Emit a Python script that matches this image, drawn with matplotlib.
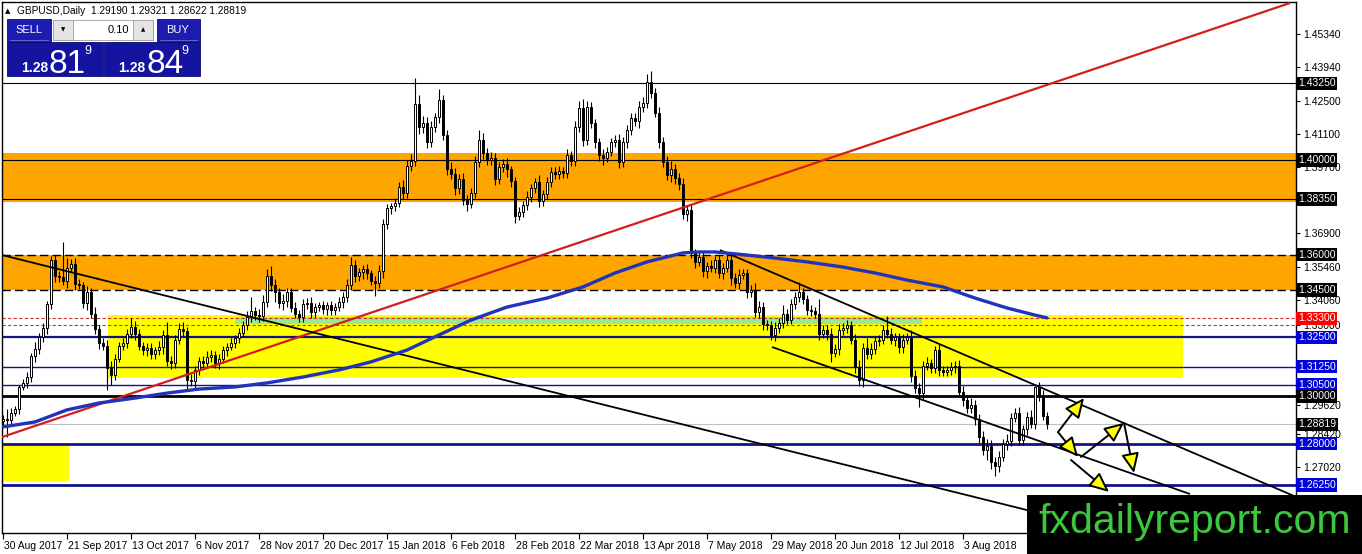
import numpy as np
import matplotlib
matplotlib.use('Agg')
import matplotlib.pyplot as plt
from matplotlib.patches import Rectangle
import matplotlib.transforms as mtrans
from matplotlib import font_manager as fm

# ---------------- data ----------------
closes = [
 1.2905, 1.2900, 1.2930, 1.2945, 1.3040, 1.3055, 1.3080, 1.3170, 1.3200, 1.3250, 1.3290, 1.3390, 1.3575, 1.3510, 1.3505, 1.3490,
 1.3545, 1.3560, 1.3475, 1.3470, 1.3395, 1.3440, 1.3350, 1.3285, 1.3225, 1.3215, 1.3120, 1.3090, 1.3160, 1.3215, 1.3225, 1.3265,
 1.3295, 1.3265, 1.3215, 1.3195, 1.3205, 1.3180, 1.3195, 1.3210, 1.3260, 1.3150, 1.3140, 1.3240, 1.3285, 1.3275, 1.3070, 1.3065,
 1.3110, 1.3150, 1.3140, 1.3165, 1.3175, 1.3140, 1.3160, 1.3195, 1.3210, 1.3225, 1.3245, 1.3270, 1.3300, 1.3335, 1.3360, 1.3345,
 1.3340, 1.3400, 1.3510, 1.3470, 1.3440, 1.3395, 1.3405, 1.3440, 1.3375, 1.3350, 1.3335, 1.3390, 1.3395, 1.3355, 1.3380, 1.3385,
 1.3370, 1.3385, 1.3365, 1.3380, 1.3400, 1.3420, 1.3470, 1.3555, 1.3510, 1.3525, 1.3540, 1.3520, 1.3490, 1.3480, 1.3530, 1.3730,
 1.3795, 1.3805, 1.3820, 1.3885, 1.3860, 1.3975, 1.3995, 1.4235, 1.4140, 1.4155, 1.4075, 1.4140, 1.4180, 1.4255, 1.4105, 1.3960,
 1.3940, 1.3880, 1.3920, 1.3830, 1.3815, 1.3860, 1.3990, 1.4085, 1.4030, 1.4000, 1.4010, 1.3920, 1.3970, 1.3985, 1.3960, 1.3910,
 1.3765, 1.3780, 1.3810, 1.3843, 1.3880, 1.3905, 1.3825, 1.3855, 1.3905, 1.3950, 1.3940, 1.3955, 1.3945, 1.4020, 1.3995, 1.4140,
 1.4220, 1.4085, 1.4225, 1.4155, 1.4075, 1.4020, 1.4010, 1.4035, 1.4075, 1.4085, 1.3990, 1.4076, 1.4125, 1.4178, 1.4165, 1.4224,
 1.4240, 1.4330, 1.4283, 1.4200, 1.4076, 1.3990, 1.3937, 1.3960, 1.3925, 1.3900, 1.3770, 1.3790, 1.3610, 1.3570, 1.3590, 1.3530,
 1.3550, 1.3545, 1.3575, 1.3520, 1.3545, 1.3575, 1.3500, 1.3480, 1.3515, 1.3520, 1.3440, 1.3450, 1.3355, 1.3380, 1.3305, 1.3300,
 1.3260, 1.3290, 1.3310, 1.3350, 1.3325, 1.3390, 1.3420, 1.3440, 1.3410, 1.3365, 1.3360, 1.3350, 1.3265, 1.3280, 1.3265, 1.3185,
 1.3200, 1.3280, 1.3290, 1.3300, 1.3240, 1.3125, 1.3070, 1.3205, 1.3180, 1.3200, 1.3235, 1.3240, 1.3282, 1.3265, 1.3240, 1.3250,
 1.3210, 1.3240, 1.3250, 1.3085, 1.3035, 1.3015, 1.3130, 1.3140, 1.3120, 1.3195, 1.3110, 1.3105, 1.3112, 1.3125, 1.3128, 1.3020,
 1.2985, 1.2950, 1.2965, 1.2905, 1.2830, 1.2773, 1.2790, 1.2724, 1.2705, 1.2745, 1.2800, 1.2810, 1.2910, 1.2930, 1.2815, 1.2860,
 1.2912, 1.2885, 1.3040, 1.3000, 1.2919, 1.28819]
first_open = 1.2895
# upper / lower wick lengths in pips
upper_wick = [
 15, 40, 20, 15, 10, 20, 25, 15, 30, 20, 20, 15, 20, 25, 20, 150,
 40, 20, 25, 20, 15, 25, 20, 30, 15, 20, 25, 30, 20, 15, 20, 20,
 35, 25, 20, 15, 20, 20, 15, 25, 20, 55, 20, 20, 25, 30, 20, 25,
 20, 15, 20, 25, 20, 15, 20, 20, 15, 20, 15, 20, 20, 25, 60, 20,
 25, 30, 30, 40, 25, 20, 30, 20, 20, 25, 15, 20, 20, 25, 15, 15,
 20, 15, 20, 15, 20, 20, 25, 35, 20, 20, 15, 20, 15, 20, 25, 20,
 20, 15, 20, 20, 30, 25, 30, 110, 40, 30, 25, 25, 20, 45, 20, 20,
 30, 25, 20, 25, 20, 20, 25, 40, 30, 20, 25, 20, 20, 20, 25, 15,
 20, 20, 15, 25, 20, 20, 30, 20, 25, 20, 20, 20, 15, 25, 20, 25,
 30, 40, 25, 20, 20, 20, 25, 20, 20, 20, 25, 20, 25, 20, 20, 25,
 25, 35, 47, 20, 25, 20, 25, 35, 25, 20, 25, 20, 25, 15, 20, 25,
 20, 25, 20, 25, 20, 30, 25, 20, 25, 20, 20, 20, 30, 25, 20, 20,
 20, 25, 20, 35, 20, 20, 20, 45, 20, 20, 20, 20, 60, 20, 20, 25,
 20, 25, 20, 25, 20, 25, 30, 20, 40, 25, 20, 20, 20, 60, 25, 20,
 20, 25, 20, 30, 25, 20, 20, 25, 20, 20, 25, 20, 15, 20, 20, 25,
 25, 20, 30, 20, 20, 25, 30, 25, 20, 25, 20, 30, 20, 20, 25, 20,
 20, 30, 6, 20, 25, 13]
lower_wick = [
 20, 70, 20, 15, 20, 15, 20, 20, 25, 20, 20, 25, 20, 25, 20, 20,
 30, 20, 25, 15, 20, 30, 20, 20, 25, 20, 93, 40, 20, 15, 20, 20,
 20, 25, 20, 20, 25, 20, 20, 20, 30, 20, 25, 20, 20, 20, 40, 20,
 30, 20, 25, 20, 20, 20, 25, 20, 25, 15, 20, 20, 20, 20, 20, 20,
 25, 20, 20, 25, 40, 20, 30, 25, 20, 20, 20, 20, 20, 25, 20, 20,
 20, 25, 20, 20, 20, 25, 20, 20, 25, 20, 30, 25, 20, 55, 20, 30,
 20, 25, 20, 20, 25, 20, 20, 20, 30, 25, 25, 20, 20, 25, 20, 25,
 20, 30, 25, 20, 30, 20, 20, 20, 25, 20, 20, 25, 20, 20, 30, 25,
 30, 20, 20, 20, 20, 20, 25, 20, 20, 20, 20, 20, 20, 20, 20, 20,
 20, 25, 20, 20, 25, 25, 30, 20, 20, 20, 25, 20, 25, 20, 20, 30,
 20, 20, 20, 20, 25, 20, 20, 30, 25, 25, 20, 30, 25, 25, 20, 25,
 30, 20, 25, 20, 25, 20, 30, 20, 25, 20, 25, 20, 20, 25, 25, 20,
 20, 25, 20, 20, 20, 20, 20, 20, 20, 20, 20, 20, 25, 20, 25, 40,
 20, 25, 20, 20, 20, 25, 25, 30, 20, 20, 20, 20, 20, 20, 20, 25,
 25, 25, 20, 25, 20, 60, 25, 20, 20, 20, 25, 20, 20, 20, 25, 20,
 25, 20, 20, 25, 25, 20, 40, 30, 43, 25, 20, 25, 20, 20, 20, 20,
 25, 20, 25, 20, 20, 20]

date_labels = ['30 Aug 2017', '21 Sep 2017', '13 Oct 2017', '6 Nov 2017', '28 Nov 2017',
               '20 Dec 2017', '15 Jan 2018', '6 Feb 2018', '28 Feb 2018', '22 Mar 2018',
               '13 Apr 2018', '7 May 2018', '29 May 2018', '20 Jun 2018', '12 Jul 2018', '3 Aug 2018']
label_every = 16

# moving average (sampled)
ma_bars = [0, 8, 16, 24, 33, 41, 49, 58, 66, 75, 84, 92, 101, 109, 117, 126, 136, 145, 153, 161,
           166, 170, 174, 178, 186, 193, 201, 210, 218, 226, 235, 243, 251, 258, 261]
ma_vals = [1.2871, 1.2892, 1.2943, 1.2972, 1.2993, 1.3014, 1.3031, 1.3040, 1.3057, 1.3082, 1.3112,
           1.3146, 1.3196, 1.3260, 1.3323, 1.3378, 1.3416, 1.3463, 1.3522, 1.3569, 1.3590, 1.3607,
           1.3611, 1.3611, 1.3598, 1.3585, 1.3569, 1.3547, 1.3522, 1.3492, 1.3463, 1.3416, 1.3374,
           1.3344, 1.3332]

# horizontal levels
levels_black = [1.4325, 1.4000, 1.3835]
levels_dashed_black = [1.3600, 1.3450]
levels_red_dashed = [1.3330, 1.3300]
levels_blue = [(1.3250, 1.6), (1.3125, 1.0), (1.3050, 1.0), (1.2800, 2.0), (1.2625, 2.0)]
level_main = 1.3000
bid_price = 1.28819

zones_orange = [(1.3822, 1.4030), (1.3450, 1.3600)]
yellow_zone = (26.25, 295.0, 1.3078, 1.3343)
green_zone = (58.0, 229.75, 1.3305, 1.3336)
yellow_small = (-0.5, 16.5, 1.2642, 1.2803)

# trend lines ((bar, price), (bar, price))
red_line = ((-0.25, 1.2828), (321.75, 1.4664))
black_long = ((-0.25, 1.3598), (300.0, 1.2334))
chan_upper = ((179.25, 1.3619), (323.0, 1.2577))
chan_lower = ((192.25, 1.3209), (296.75, 1.2587))

# scenario arrows (bar, price) -> (bar, price)
arrows = [((263.75, 1.2849), (270.25, 1.2993)),
          ((263.75, 1.2849), (268.75, 1.2744)),
          ((269.5, 1.2744), (280.25, 1.2888)),
          ((280.25, 1.2888), (282.75, 1.2676)),
          ((267.0, 1.2731), (276.5, 1.2596))]

ytick_vals = [1.4534, 1.4394, 1.4250, 1.4110, 1.3970, 1.3690, 1.3546, 1.3406, 1.3300,
              1.2962, 1.2842, 1.2702]

# ---------------- figure ----------------
W, H = 1362, 554
fig = plt.figure(figsize=(W / 100, H / 100), dpi=100)
fig.patch.set_facecolor('white')
ax = fig.add_axes([2 / W, 1 - 533 / H, 1294 / W, 531 / H])
ax.set_xlim(-0.25, 323.25)
ax.set_ylim(1.24222, 1.46683)
ax.set_facecolor('white')

FONT = ['Liberation Sans', 'DejaVu Sans']
names = {f.name for f in fm.fontManager.ttflist}
NARROW = ['Liberation Sans Narrow', 'Liberation Sans'] if 'Liberation Sans Narrow' in names else FONT

# zones
for lo, hi in zones_orange:
    ax.axhspan(lo, hi, color='#ffa500', zorder=1, lw=0)
x0, x1, lo, hi = yellow_zone
ax.add_patch(Rectangle((x0, lo), x1 - x0, hi - lo, color='#ffff00', zorder=1.1, lw=0))
x0, x1, lo, hi = green_zone
ax.add_patch(Rectangle((x0, lo), x1 - x0, hi - lo, color='#98e898', zorder=1.2, lw=0))
x0, x1, lo, hi = yellow_small
ax.add_patch(Rectangle((x0, lo), x1 - x0, hi - lo, color='#ffff00', zorder=1.1, lw=0))

# horizontal lines
for p in levels_black:
    ax.axhline(p, color='black', lw=0.8, zorder=2)
for p in levels_dashed_black:
    ax.axhline(p, color='black', lw=1.0, ls=(0, (6, 3)), zorder=2)
for p in levels_red_dashed:
    ax.axhline(p, color='#d03030', lw=0.8, ls=(0, (3, 2)), zorder=2)
for p, w in levels_blue:
    ax.axhline(p, color='#12128c', lw=w, zorder=2)
ax.axhline(level_main, color='black', lw=2.0, zorder=2)
ax.axhline(bid_price, color='#c0c0c0', lw=0.8, zorder=2)

# candles
c = np.array(closes)
o = np.r_[first_open, c[:-1]]
uw = np.array(upper_wick) * 1e-4
lw_ = np.array(lower_wick) * 1e-4
hi_ = np.maximum(o, c) + uw
lo_ = np.minimum(o, c) - lw_
idx = np.arange(len(c))
ax.vlines(idx, lo_, hi_, color='black', lw=0.8, zorder=3)
bull = c >= o
body = np.maximum(np.abs(c - o), 0.00015)
ax.bar(idx[bull], body[bull], bottom=np.minimum(o, c)[bull], width=0.62,
       facecolor='white', edgecolor='black', lw=0.7, zorder=3.1)
ax.bar(idx[~bull], body[~bull], bottom=np.minimum(o, c)[~bull], width=0.62,
       facecolor='black', edgecolor='black', lw=0.7, zorder=3.1)

# trend lines
for (a, b), col, w in [(red_line, '#d41e1e', 1.6), (black_long, 'black', 1.3),
                       (chan_upper, 'black', 1.3), (chan_lower, 'black', 1.3)]:
    ax.plot([a[0], b[0]], [a[1], b[1]], color=col, lw=w, zorder=4, solid_capstyle='butt')

# moving average
ax.plot(ma_bars, ma_vals, color='#2233bb', lw=2.4, zorder=5, solid_capstyle='round')

# arrows
for (s, e) in arrows:
    ax.annotate('', xy=e, xytext=s, zorder=6,
                arrowprops=dict(arrowstyle='-|>,head_length=1.0,head_width=0.45',
                                fc='#ffff00', ec='black', lw=1.4, shrinkA=0, shrinkB=0,
                                mutation_scale=12))

# axes styling
for sp in ax.spines.values():
    sp.set_color('black')
    sp.set_linewidth(1.0)
ax.yaxis.tick_right()
ax.set_yticks(ytick_vals)
ax.set_yticklabels(['%.5f' % v for v in ytick_vals], fontsize=7.5, family=FONT)
ax.tick_params(axis='y', direction='out', length=3, pad=2, width=0.8)
xt = [i * label_every for i in range(len(date_labels))]
ax.set_xticks(xt)
ax.set_xticklabels(date_labels, fontsize=7.5, family=FONT, ha='left')
ax.tick_params(axis='x', direction='out', length=4, pad=2, width=0.8)
off = mtrans.ScaledTranslation(1.5 / 100, 0, fig.dpi_scale_trans)
for t in ax.get_xticklabels():
    t.set_transform(t.get_transform() + off)

# level label boxes on right
ytrans = mtrans.blended_transform_factory(ax.transAxes, ax.transData)
boxes = [(1.4325, 'black'), (1.4000, 'black'), (1.3835, 'black'), (1.3600, 'black'),
         (1.3450, 'black'), (1.3330, '#ff0000'), (1.3250, '#0000d8'), (1.3125, '#0000d8'),
         (1.3050, '#0000d8'), (1.3000, 'black'), (bid_price, 'black'),
         (1.2800, '#0000d8'), (1.2625, '#0000d8')]
for p, col in boxes:
    ax.text(1.0 + 2 / 1294, p, '%.5f' % p, transform=ytrans, fontsize=7.5, family=FONT,
            color='white', va='center', ha='left', clip_on=False, zorder=10,
            bbox=dict(boxstyle='square,pad=0.15', fc=col, ec='none'))

# overlay for panel / watermark (pixel coords)
ov = fig.add_axes([0, 0, 1, 1], zorder=20)
ov.set_xlim(0, W)
ov.set_ylim(H, 0)
ov.axis('off')
ov.patch.set_alpha(0)

ov.text(5, 11, '\u25b2', fontsize=5, va='center', family=['DejaVu Sans'])
ov.text(17, 11, 'GBPUSD,Daily  1.29190 1.29321 1.28622 1.28819', fontsize=7.3, va='center',
        family=FONT, color='black')

blue_dark = '#1414a0'
ov.add_patch(Rectangle((7, 19), 44, 23, fc='#1c1cb0', ec='#0a0a70', lw=0.6))
ov.plot([10, 48], [40, 40], color='#6a6ae0', lw=0.6)
ov.text(29, 30, 'SELL', color='white', fontsize=8, ha='center', va='center', family=FONT)
ov.add_patch(Rectangle((157, 19), 43, 23, fc='#1c1cb0', ec='#0a0a70', lw=0.6))
ov.plot([160, 197], [40, 40], color='#6a6ae0', lw=0.6)
ov.text(178, 30, 'BUY', color='white', fontsize=8, ha='center', va='center', family=FONT)
# spinner
ov.add_patch(Rectangle((53, 20), 100, 20, fc='white', ec='#a0a0a0', lw=0.6))
ov.add_patch(Rectangle((53, 20), 20, 20, fc='#e4e4e4', ec='#a0a0a0', lw=0.6))
ov.add_patch(Rectangle((133, 20), 20, 20, fc='#e4e4e4', ec='#a0a0a0', lw=0.6))
ov.text(63, 30, '\u25bc', fontsize=4, ha='center', va='center', family=['DejaVu Sans'])
ov.text(143, 30, '\u25b2', fontsize=4, ha='center', va='center', family=['DejaVu Sans'])
ov.text(129, 30, '0.10', fontsize=8, ha='right', va='center', family=FONT)
# price boxes
for bx, big in [(7, '81'), (104, '84')]:
    ov.add_patch(Rectangle((bx, 42), 96, 34, fc=blue_dark, ec='#0a0a70', lw=0.6))
    ov.text(bx + 14, 72, '1.28', color='white', fontsize=10, ha='left', va='baseline',
            family=FONT, weight='bold')
    ov.text(bx + 42, 73, big, color='white', fontsize=24, ha='left', va='baseline', family=NARROW)
    ov.text(bx + 77, 54, '9', color='white', fontsize=9, ha='left', va='baseline', family=FONT)

# watermark
ov.add_patch(Rectangle((1027, 495), W - 1027, H - 495, fc='black', ec='none'))
ov.text(1195, 533, 'fxdailyreport.com', color='#3cc83c', fontsize=29.5, ha='center',
        va='baseline', family=FONT)

fig.savefig('out.png', dpi=100)
